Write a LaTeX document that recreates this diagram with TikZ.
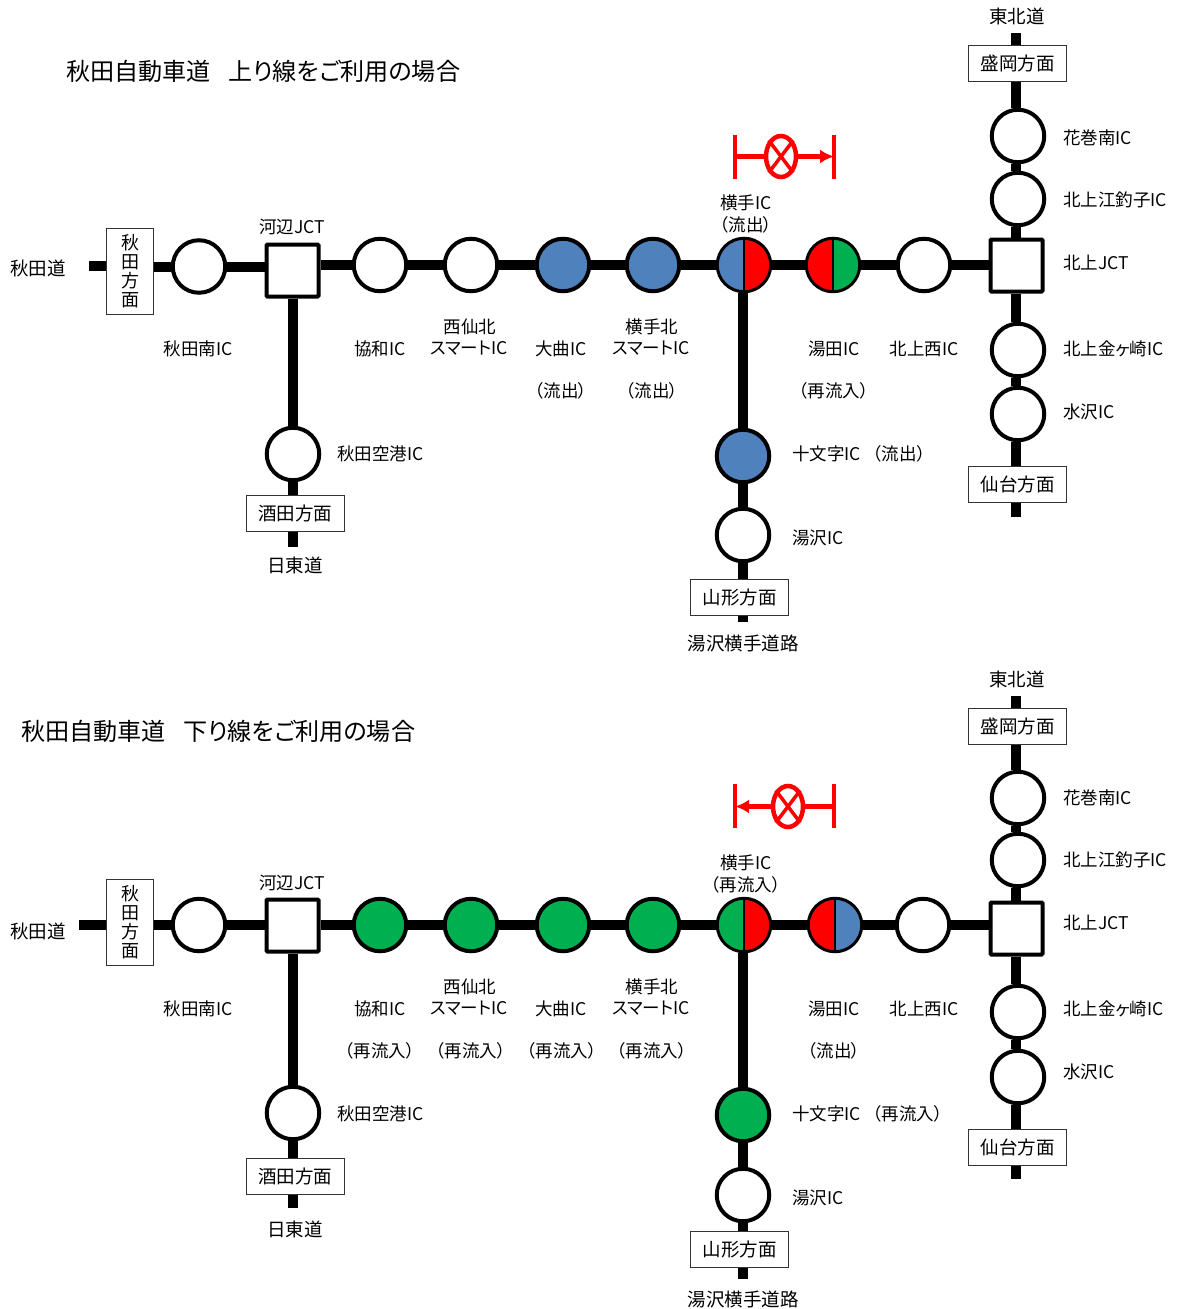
\documentclass[tikz,border=0pt]{standalone}
\usepackage{fontspec}
\setmainfont{Noto Sans CJK JP}[RawFeature=+palt]
\usetikzlibrary{shapes.geometric,arrows.meta}
\definecolor{rblue}{HTML}{4F81BD}
\definecolor{rgreen}{HTML}{00B050}
\definecolor{rred}{HTML}{FF0000}
\tikzset{
  road/.style={line width=10pt,black},
  stn/.style={circle,draw=black,line width=4pt,fill=white,minimum size=52.5pt,inner sep=0pt},
  jct/.style={rectangle,draw=black,line width=4pt,fill=white,minimum size=52pt,inner sep=0pt,rounded corners=1pt},
  blu/.style={stn,fill=rblue},
  grn/.style={stn,fill=rgreen},
  split/.style n args={2}{circle,draw=black,line width=3pt,minimum size=53.5pt,inner sep=0pt,
    path picture={
      \fill[#1] (path picture bounding box.south west) rectangle (path picture bounding box.north);
      \fill[#2] (path picture bounding box.south) rectangle (path picture bounding box.north east);
      \draw[black,line width=2pt] (path picture bounding box.south) -- (path picture bounding box.north);}},
  dirbox/.style={rectangle,draw=black!80,line width=1pt,fill=white,minimum width=98pt,minimum height=36pt,inner sep=0pt,font=\fontsize{18.5}{21}\selectfont},
  vbox/.style={rectangle,draw=black!80,line width=1pt,fill=white,minimum width=47pt,inner sep=0pt,align=center,font=\fontsize{18}{19}\selectfont},
  lab/.style={inner sep=0pt,font=\fontsize{17.5}{20}\selectfont},
  big/.style={inner sep=0pt,font=\fontsize{18.5}{22}\selectfont},
  ttl/.style={inner sep=0pt,anchor=west,font=\fontsize{24.1}{28}\selectfont},
  lw/.style={lab,anchor=west},
  redl/.style={rred,line width=4.5pt},
  redx/.style={ellipse,draw=rred,line width=4.5pt,fill=white,minimum width=30pt,minimum height=41pt,inner sep=0pt},
  reda/.style={redl,-{Latex[length=14pt,width=14pt]}}
}
\begin{document}
\begin{tikzpicture}[x=1pt,y=-1pt]
\useasboundingbox (0,0) rectangle (1176,1309);
% ---------- upper panel ----------
\node[ttl] (t1) at (66,71) {秋田自動車道\hspace{18pt}上り線をご利用の場合};
\coordinate (aL) at (89,266);
\coordinate (aT) at (1016,33);
\coordinate (aB) at (1016,517);
\coordinate (aS) at (293,547);
\coordinate (aY) at (743,622);
\node[vbox,minimum height=86pt] (aAk) at (130,271) {秋\\田\\方\\面};
\node[stn] (a1) at (199,266.5) {};
\node[jct] (aJ1) at (292.5,270.5) {};
\node[stn] (a2) at (380,265) {};
\node[stn] (a3) at (471,265) {};
\node[blu] (a4) at (563,265) {};
\node[blu] (a5) at (653,265) {};
\node[split={rblue}{rred}] (a6) at (744,265) {};
\node[split={rred}{rgreen}] (a7) at (833,265) {};
\node[stn] (a8) at (924,265) {};
\node[jct] (aJ2) at (1016.5,265.5) {};
\node[dirbox] (aM) at (1017.5,63.5) {盛岡方面};
\node[stn] (aN1) at (1018,136) {};
\node[stn] (aN2) at (1018,199) {};
\node[stn] (aN3) at (1018,350) {};
\node[stn] (aN4) at (1018,414) {};
\node[dirbox] (aD) at (1017.5,484.5) {仙台方面};
\node[stn] (aK) at (293,454) {};
\node[dirbox] (aSk) at (295,513.5) {酒田方面};
\node[blu] (aU1) at (743,456) {};
\node[stn] (aU2) at (743,535) {};
\node[dirbox] (aYm) at (739.5,597.5) {山形方面};
% connectors
\draw[road] (aL) -- (aL -| aAk.west);
\draw[road] (aAk.east |- a1.west) -- (a1.west);
\draw[road] (a1.east) -- (aJ1.west |- a1.east);
\draw[road] (aJ1.east |- a2.west) -- (a2.west);
\foreach \p/\q in {a2/a3,a3/a4,a4/a5,a5/a6,a6/a7,a7/a8} \draw[road] (\p.east) -- (\q.west);
\draw[road] (a8.east) -- (aJ2.west |- a8.east);
\draw[road] (aT) -- (aM.north -| aT);
\draw[road] (aM.south -| aT) -- (aN1.north -| aT);
\foreach \p/\q in {aN1/aN2,aN2/aJ2,aJ2/aN3,aN3/aN4,aN4/aD} \draw[road] (\p.south -| aT) -- (\q.north -| aT);
\draw[road] (aD.south -| aT) -- (aB);
\draw[road] (aJ1.south -| aS) -- (aK.north -| aS);
\draw[road] (aK.south -| aS) -- (aSk.north -| aS);
\draw[road] (aSk.south -| aS) -- (aS);
\draw[road] (a6.south -| aY) -- (aU1.north);
\draw[road] (aU1.south) -- (aU2.north);
\draw[road] (aU2.south) -- (aYm.north -| aY);
\draw[road] (aYm.south -| aY) -- (aY);
% restriction mark
\coordinate (aR1t) at (735,135); \coordinate (aR1b) at (735,179);
\coordinate (aR2t) at (834,135); \coordinate (aR2b) at (834,179);
\node[redx] (aX) at (781,156.5) {};
\draw[redl] (aR1t) -- (aR1b);
\draw[redl] (aR2t) -- (aR2b);
\draw[redl] (aR1t |- aX) -- (aX.west);
\draw[reda] (aX.east) -- (aR2t |- aX);
\draw[redl,line width=3.5pt] (aX.north west) -- (aX.south east);
\draw[redl,line width=3.5pt] (aX.north east) -- (aX.south west);
% labels
\node[big] (l01) at (38,268) {秋田道};
\node[lab] (l02) at (292,227) {河辺JCT};
\node[lab] (l03) at (198,349) {秋田南IC};
\node[lab] (l04) at (380,349) {協和IC};
\node[lab] (l05) at (470,327) {西仙北};
\node[lab] (l06) at (469,348) {スマートIC};
\node[lab] (l07) at (561,349) {大曲IC};
\node[lab] (l08) at (561,391) {（流出）};
\node[lab] (l09) at (652,327) {横手北};
\node[lab] (l10) at (651,348) {スマートIC};
\node[lab] (l11) at (652,391) {（流出）};
\node[lab] (l12) at (746,203) {横手IC};
\node[lab] (l13) at (746,225) {（流出）};
\node[lab] (l14) at (834,349) {湯田IC};
\node[lab] (l15) at (834,391) {（再流入）};
\node[lab] (l16) at (924,349) {北上西IC};
\node[lw] (l17) at (792,454) {十文字IC\hspace{12pt}（流出）};
\node[lw] (l18) at (792,538) {湯沢IC};
\node[lw] (l19) at (337,454) {秋田空港IC};
\node[big] (l20) at (295,565) {日東道};
\node[big] (l21) at (743,643) {湯沢横手道路};
\node[big] (l22) at (1017,16) {東北道};
\node[lw] (l23) at (1063,138) {花巻南IC};
\node[lw] (l24) at (1063,200) {北上江釣子IC};
\node[lw] (l25) at (1063,263) {北上JCT};
\node[lw] (l26) at (1063,349) {北上金ヶ崎IC};
\node[lw] (l27) at (1063,412) {水沢IC};
% ---------- lower panel ----------
\node[ttl] (t2) at (21,731) {秋田自動車道\hspace{18pt}下り線をご利用の場合};
\coordinate (bL) at (79,925);
\coordinate (bT) at (1016,696);
\coordinate (bB) at (1016,1179);
\coordinate (bS) at (293,1208);
\coordinate (bY) at (743,1279);
\node[vbox,minimum height=86pt] (bAk) at (130,922.5) {秋\\田\\方\\面};
\node[stn] (b1) at (199,925) {};
\node[jct] (bJ1) at (292.5,925.5) {};
\node[grn] (b2) at (380,925) {};
\node[grn] (b3) at (471,925) {};
\node[grn] (b4) at (563,925) {};
\node[grn] (b5) at (653,925) {};
\node[split={rgreen}{rred}] (b6) at (744,925) {};
\node[split={rred}{rblue}] (b7) at (835,925) {};
\node[stn] (b8) at (923,925) {};
\node[jct] (bJ2) at (1016.5,928.5) {};
\node[dirbox] (bM) at (1017.5,726.5) {盛岡方面};
\node[stn] (bN1) at (1018,798) {};
\node[stn] (bN2) at (1018,860) {};
\node[stn] (bN3) at (1018,1012) {};
\node[stn] (bN4) at (1018,1077) {};
\node[dirbox] (bD) at (1017.5,1147) {仙台方面};
\node[stn] (bK) at (293,1113) {};
\node[dirbox] (bSk) at (295,1176.5) {酒田方面};
\node[grn] (bU1) at (743,1115) {};
\node[stn] (bU2) at (743,1195) {};
\node[dirbox] (bYm) at (739.5,1249.5) {山形方面};
% connectors
\draw[road] (bL) -- (bL -| bAk.west);
\draw[road] (bAk.east |- bL) -- (b1.west);
\draw[road] (b1.east) -- (bJ1.west |- b1.east);
\draw[road] (bJ1.east |- b2.west) -- (b2.west);
\foreach \p/\q in {b2/b3,b3/b4,b4/b5,b5/b6,b6/b7,b7/b8} \draw[road] (\p.east) -- (\q.west);
\draw[road] (b8.east) -- (bJ2.west |- b8.east);
\draw[road] (bT) -- (bM.north -| bT);
\draw[road] (bM.south -| bT) -- (bN1.north -| bT);
\foreach \p/\q in {bN1/bN2,bN2/bJ2,bJ2/bN3,bN3/bN4,bN4/bD} \draw[road] (\p.south -| bT) -- (\q.north -| bT);
\draw[road] (bD.south -| bT) -- (bB);
\draw[road] (bJ1.south -| bS) -- (bK.north -| bS);
\draw[road] (bK.south -| bS) -- (bSk.north -| bS);
\draw[road] (bSk.south -| bS) -- (bS);
\draw[road] (b6.south -| bY) -- (bU1.north);
\draw[road] (bU1.south) -- (bU2.north);
\draw[road] (bU2.south) -- (bYm.north -| bY);
\draw[road] (bYm.south -| bY) -- (bY);
% restriction mark
\coordinate (bR1t) at (735,784); \coordinate (bR1b) at (735,828);
\coordinate (bR2t) at (834,784); \coordinate (bR2b) at (834,828);
\node[redx] (bX) at (788,806.5) {};
\draw[redl] (bR1t) -- (bR1b);
\draw[redl] (bR2t) -- (bR2b);
\draw[redl] (bR2t |- bX) -- (bX.east);
\draw[reda] (bX.west) -- (bR1t |- bX);
\draw[redl,line width=3.5pt] (bX.north west) -- (bX.south east);
\draw[redl,line width=3.5pt] (bX.north east) -- (bX.south west);
% labels
\node[big] (m01) at (38,931) {秋田道};
\node[lab] (m02) at (292,883) {河辺JCT};
\node[lab] (m03) at (198,1009) {秋田南IC};
\node[lab] (m04) at (380,1009) {協和IC};
\node[lab] (m05) at (470,987) {西仙北};
\node[lab] (m06) at (469,1008) {スマートIC};
\node[lab] (m07) at (561,1009) {大曲IC};
\node[lab] (m08) at (380,1051) {（再流入）};
\node[lab] (m09) at (652,987) {横手北};
\node[lab] (m10) at (651,1008) {スマートIC};
\node[lab] (m11) at (471,1051) {（再流入）};
\node[lab] (m12) at (746,863) {横手IC};
\node[lab] (m13) at (746,885) {（再流入）};
\node[lab] (m14) at (834,1009) {湯田IC};
\node[lab] (m15) at (834,1051) {（流出）};
\node[lab] (m16) at (924,1009) {北上西IC};
\node[lw] (m17) at (792,1114) {十文字IC\hspace{12pt}（再流入）};
\node[lw] (m18) at (792,1198) {湯沢IC};
\node[lw] (m19) at (337,1114) {秋田空港IC};
\node[big] (m20) at (295,1229) {日東道};
\node[big] (m21) at (743,1299) {湯沢横手道路};
\node[big] (m22) at (1017,679) {東北道};
\node[lw] (m23) at (1063,798) {花巻南IC};
\node[lw] (m24) at (1063,860) {北上江釣子IC};
\node[lw] (m25) at (1063,923) {北上JCT};
\node[lw] (m26) at (1063,1009) {北上金ヶ崎IC};
\node[lw] (m27) at (1063,1072) {水沢IC};
\node[lab] (m28) at (562,1051) {（再流入）};
\node[lab] (m29) at (652,1051) {（再流入）};
\end{tikzpicture}
\end{document}
